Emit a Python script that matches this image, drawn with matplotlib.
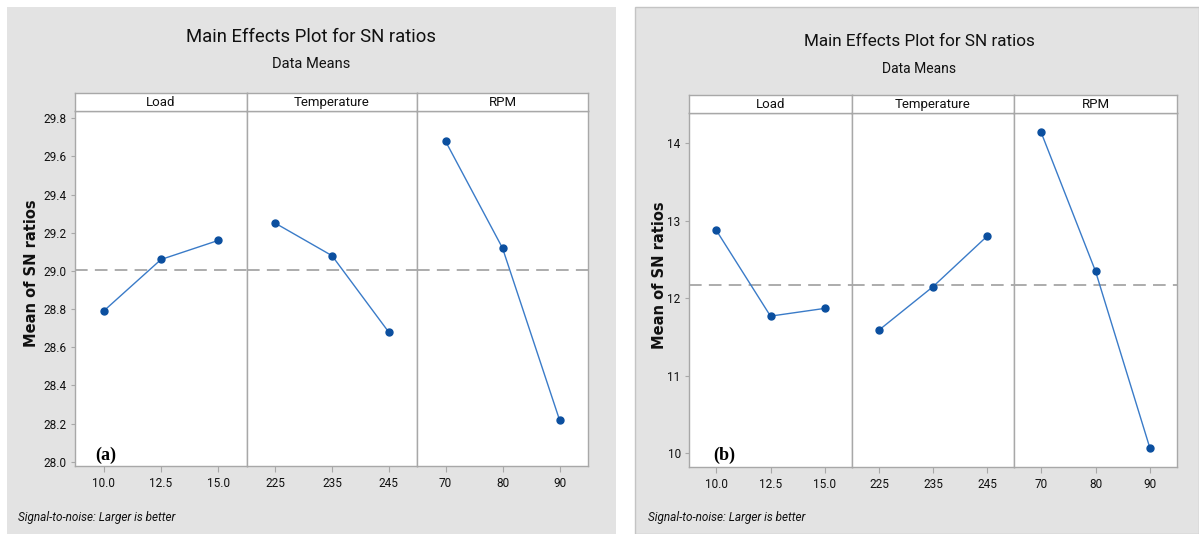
import numpy as np
import matplotlib
matplotlib.use("Agg")
import matplotlib.pyplot as plt
from matplotlib.patches import Rectangle

# factor levels
load_levels = ["10.0", "12.5", "15.0"]
temp_levels = ["225", "235", "245"]
rpm_levels = ["70", "80", "90"]
factor_names = ["Load", "Temperature", "RPM"]

# mean S/N ratio per level, case (a)
sn_a_load = [28.79, 29.06, 29.16]
sn_a_temp = [29.25, 29.08, 28.68]
sn_a_rpm = [29.68, 29.12, 28.22]

# mean S/N ratio per level, case (b)
sn_b_load = [12.88, 11.77, 11.87]
sn_b_temp = [11.59, 12.15, 12.80]
sn_b_rpm = [14.14, 12.35, 10.07]

yticks_a = [28.0, 28.2, 28.4, 28.6, 28.8, 29.0, 29.2, 29.4, 29.6, 29.8]
yticks_b = [10, 11, 12, 13, 14]

W, H = 1199, 534
SANS = "Roboto"

BG = "#e3e3e3"
FRAME = "#a8a8a8"
LINE = "#3a7bc8"
MARK = "#0b4f9f"
REF = "#a6a6a6"
INK = "#111111"

fig = plt.figure(figsize=(W / 100, H / 100), dpi=100)
fig.patch.set_facecolor("white")


def box(x0, y0, x1, y1):
    """pixel box (top-left origin) -> figure fraction rect"""
    return [x0 / W, 1 - y1 / H, (x1 - x0) / W, (y1 - y0) / H]


def fig_text(x, y, s, **kw):
    fig.text(x / W, 1 - y / H, s, **kw)


def draw_panel(left, right, dividers, strip_top, top, bottom, ylim, yticks, fmt,
               series, levels, mean):
    edges = [left] + dividers + [right]
    for i in range(3):
        x0, x1 = edges[i], edges[i + 1]
        ax = fig.add_axes(box(x0, top, x1, bottom))
        ax.set_facecolor("white")
        xs = np.arange(3)
        ax.axhline(mean, color=REF, lw=1.3, dashes=(7, 4), zorder=1)
        ax.plot(xs, series[i], color=LINE, lw=1.0, zorder=2)
        ax.plot(xs, series[i], "o", color=MARK, ms=5, zorder=3)
        ax.set_xlim(-0.5, 2.5)
        ax.set_ylim(*ylim)
        ax.set_xticks(xs)
        ax.set_xticklabels(levels[i], fontsize=8.5, family=SANS, color=INK)
        ax.tick_params(axis="x", length=4, color=FRAME, pad=4)
        if i == 0:
            ax.set_yticks(yticks)
            ax.set_yticklabels([fmt.format(v) for v in yticks], fontsize=8.5,
                               family=SANS, color=INK)
            ax.tick_params(axis="y", length=3, color=FRAME, pad=3)
        else:
            ax.set_yticks([])
        for sp in ax.spines.values():
            sp.set_color(FRAME)
            sp.set_linewidth(1.0)

        # strip header
        sx = fig.add_axes(box(x0, strip_top, x1, top))
        sx.set_facecolor("white")
        sx.set_xticks([])
        sx.set_yticks([])
        for sp in sx.spines.values():
            sp.set_color(FRAME)
            sp.set_linewidth(1.0)
        sx.text(0.5, 0.45, factor_names[i], ha="center", va="center",
                fontsize=9.5, family=SANS, color=INK,
                transform=sx.transAxes)


# grey panel backgrounds
fig.patches.append(Rectangle((7 / W, 0), (616 - 7) / W, 1 - 7 / H,
                             transform=fig.transFigure, facecolor=BG,
                             edgecolor="none", zorder=-10))
fig.patches.append(Rectangle((635 / W, 0), (W - 635) / W, 1 - 7 / H,
                             transform=fig.transFigure, facecolor=BG,
                             edgecolor="#c4c4c4", lw=1.0, zorder=-10))

# panel (a)
draw_panel(75, 588, [247, 417], 93, 111, 466, (27.978, 29.838), yticks_a,
           "{:.1f}", [sn_a_load, sn_a_temp, sn_a_rpm],
           [load_levels, temp_levels, rpm_levels], np.mean(sn_a_load))
fig_text(311, 37, "Main Effects Plot for SN ratios", ha="center", va="center",
         fontsize=13.3, family=SANS, color=INK)
fig_text(311, 64, "Data Means", ha="center", va="center",
         fontsize=10.5, family=SANS, color=INK)
fig_text(32, 273, "Mean of SN ratios", ha="center", va="center", rotation=90,
         fontsize=10.5, fontweight="bold", family="DejaVu Sans", color=INK)
fig_text(106, 455, "(a)", ha="center", va="center", fontsize=13,
         fontweight="bold", family="Liberation Serif", color="black")
fig_text(18, 517, "Signal-to-noise: Larger is better", ha="left", va="center",
         fontsize=8.5, style="italic", family=SANS, color=INK)

# panel (b)
draw_panel(689, 1177, [852, 1014], 95, 112.7, 466.7, (9.827, 14.395), yticks_b,
           "{:d}", [sn_b_load, sn_b_temp, sn_b_rpm],
           [load_levels, temp_levels, rpm_levels], np.mean(sn_b_load))
fig_text(919, 41, "Main Effects Plot for SN ratios", ha="center", va="center",
         fontsize=12.3, family=SANS, color=INK)
fig_text(919, 69, "Data Means", ha="center", va="center",
         fontsize=10, family=SANS, color=INK)
fig_text(660, 275, "Mean of SN ratios", ha="center", va="center", rotation=90,
         fontsize=10.5, fontweight="bold", family="DejaVu Sans", color=INK)
fig_text(724, 455, "(b)", ha="center", va="center", fontsize=13,
         fontweight="bold", family="Liberation Serif", color="black")
fig_text(648, 517, "Signal-to-noise: Larger is better", ha="left", va="center",
         fontsize=8.5, style="italic", family=SANS, color=INK)

fig.savefig("out.png", dpi=100, facecolor="white")
